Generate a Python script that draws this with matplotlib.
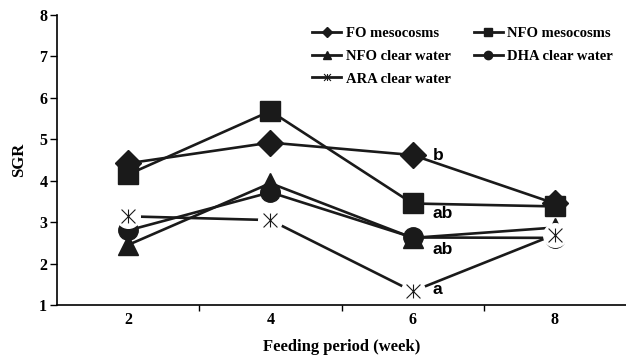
import numpy as np
import matplotlib
matplotlib.use("Agg")
import matplotlib.pyplot as plt
from matplotlib.lines import Line2D
from matplotlib.path import Path

# ============================
# Data
# ============================
weeks = ["2", "4", "6", "8"]
fo_meso = [4.42, 4.92, 4.62, 3.45]
nfo_meso = [4.15, 5.68, 3.45, 3.38]
nfo_clear = [2.45, 3.94, 2.62, 2.87]
dha_clear = [2.80, 3.72, 2.63, 2.62]
ara_clear = [3.14, 3.05, 1.33, 2.70]

sig_labels = ["b", "ab", "ab", "a"]
sig_y = [4.62, 3.22, 2.35, 1.38]

plt.rcParams["font.family"] = "Liberation Serif"
plt.rcParams["font.weight"] = "bold"

# Excel-like star marker: X with a vertical bar
star = Path([(-1, -1), (1, 1), (-1, 1), (1, -1), (0, -1), (0, 1)],
            [Path.MOVETO, Path.LINETO, Path.MOVETO, Path.LINETO, Path.MOVETO, Path.LINETO])

fig = plt.figure(figsize=(6.26, 3.57), dpi=100)
ax = fig.add_axes([57 / 626, 1 - 305 / 357, 1 - 57 / 626, 290 / 357])

x = np.arange(len(weeks))
lw = 1.9
ax.plot(x, fo_meso, color="#1a1a1a", lw=lw, marker="D", ms=13, zorder=3)
ax.plot(x, nfo_meso, color="#1a1a1a", lw=lw, marker="s", ms=14, zorder=3)
ax.plot(x, nfo_clear, color="#1a1a1a", lw=lw, marker="^", ms=14, zorder=3)
ax.plot(x, dha_clear, color="#1a1a1a", lw=lw, marker="o", ms=14, zorder=3)

# ARA: line with gaps around markers (white patch behind the star)
ax.plot(x, ara_clear, color="#1a1a1a", lw=lw, zorder=4)
ax.plot(x, ara_clear, ls="none", marker="o", ms=17, mfc="white", mec="white", zorder=5)
ax.plot(x, ara_clear, ls="none", marker=star, ms=10, mew=0.8, color="#1a1a1a", zorder=6)

for lab, yy in zip(sig_labels, sig_y):
    ax.text(2.14, yy, lab, family="Liberation Sans", fontsize=12.5, fontweight="bold",
            ha="left", va="center", zorder=7)

ax.set_xlim(-0.5, 3.5)
ax.set_ylim(1, 8)
ax.set_yticks(range(1, 9))
ax.set_xticks(x)
ax.set_xticklabels(weeks)
ax.set_xticks([0.5, 1.5, 2.5], minor=True)
ax.tick_params(axis="x", which="major", length=0, pad=5, labelsize=11.5)
ax.tick_params(axis="x", which="minor", length=4, width=1, direction="out")
ax.tick_params(axis="y", length=5, width=1, direction="out", labelsize=11.5, pad=2)
for lbl in ax.get_xticklabels() + ax.get_yticklabels():
    lbl.set_fontweight("bold")
for s in ["top", "right"]:
    ax.spines[s].set_visible(False)
for s in ["left", "bottom"]:
    ax.spines[s].set_linewidth(1.2)
ax.set_ylabel("SGR", fontsize=12, fontweight="bold", labelpad=9)
ax.set_xlabel("Feeding period (week)", fontsize=12, fontweight="bold", labelpad=8)

# Legend, filled row by row like the original
def handle(m, ms=6):
    if m == "star":
        return Line2D([], [], color="#1a1a1a", lw=2, marker=star, ms=5, mew=0.8,
                      mfc="white")
    return Line2D([], [], color="#1a1a1a", lw=2, marker=m, ms=ms)

handles = [handle("D", 5), handle("^"), handle("star"), handle("s"), handle("o")]
labels = ["FO mesocosms", "NFO clear water", "ARA clear water",
          "NFO mesocosms", "DHA clear water"]
fig.legend(handles, labels, loc="upper left", bbox_to_anchor=(312 / 626, 1 - 27 / 357),
           ncol=2, frameon=False, prop={"family": "Liberation Serif", "weight": "bold", "size": 10.5},
           handlelength=2.0, handletextpad=0.3, columnspacing=1.6, labelspacing=0.65,
           borderpad=0, borderaxespad=0)

fig.savefig("out.png", dpi=100)
